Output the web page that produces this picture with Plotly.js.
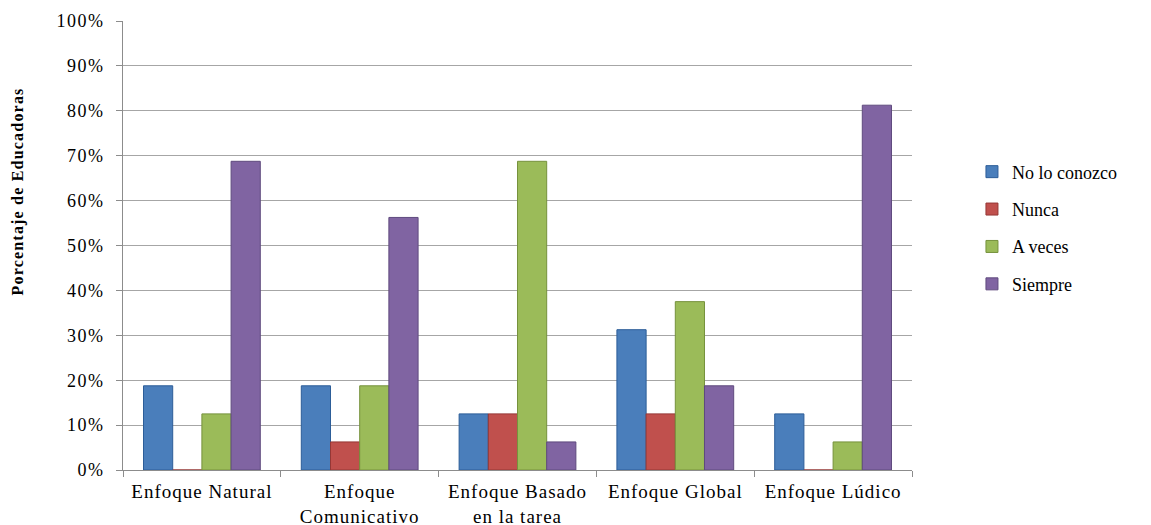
<!DOCTYPE html>
<html><head><meta charset="utf-8">
<script src="https://cdn.plot.ly/plotly-3.0.1.min.js"></script>
<style>body{margin:0;background:#fff}#c{width:1151px;height:525px}
#c .xtick text{letter-spacing:1px}
#c .ytick text{letter-spacing:1.5px}
#c .annotation text{letter-spacing:1.2px}</style>
</head><body><div id="c"></div>
<script>
const categories = ["Enfoque Natural", "Enfoque<br>Comunicativo", "Enfoque Basado<br>en la tarea", "Enfoque Global", "Enfoque Lúdico"];
const seriesNames = ["No lo conozco", "Nunca", "A veces", "Siempre"];
const noLoConozco = [0.1875, 0.1875, 0.125, 0.3125, 0.125];
const nunca = [0, 0.0625, 0.125, 0.125, 0];
const aVeces = [0.125, 0.1875, 0.6875, 0.375, 0.0625];
const siempre = [0.6875, 0.5625, 0.0625, 0.1875, 0.8125];
const yTicks = [0,0.1,0.2,0.3,0.4,0.5,0.6,0.7,0.8,0.9,1];
const yTickText = ["0%","10%","20%","30%","40%","50%","60%","70%","80%","90%","100%"];
const yTitle = "Porcentaje de Educadoras";

const colors = ["#4a7ebb", "#c0504d", "#9bbb59", "#8064a2"];
const borders = ["#2c5d98", "#953735", "#76923c", "#5f4a7e"];
const values = [noLoConozco, nunca, aVeces, siempre];
const font = "Liberation Serif, Times New Roman, serif";

const traces = values.map((v, i) => ({
  type: "bar", x: categories, y: v, name: seriesNames[i], legendgroup: "g" + i,
  marker: {color: colors[i], line: {color: borders[i], width: 1}},
  hoverinfo: "x+y+name"
}));

const layout = {
  width: 1151, height: 525,
  margin: {l: 123, r: 239, t: 21, b: 55},
  paper_bgcolor: "#fff", plot_bgcolor: "#fff",
  font: {family: font, size: 18, color: "#000"},
  barmode: "group", bargap: 0.26, bargroupgap: 0,
  xaxis: {
    showline: true, linecolor: "#8c8c8c", linewidth: 1,
    ticks: "outside", tickson: "boundaries", ticklen: 6, tickcolor: "#8c8c8c",
    tickfont: {family: font, size: 19}, showgrid: false, automargin: false,
    ticklabelstandoff: 4
  },
  yaxis: {
    range: [0, 1], tickvals: yTicks, ticktext: yTickText,
    showline: true, linecolor: "#8c8c8c", linewidth: 1,
    ticks: "outside", ticklen: 6, tickcolor: "#8c8c8c",
    gridcolor: "#a6a6a6", gridwidth: 1, zeroline: false,
    tickfont: {family: font, size: 18}, automargin: false,
    ticklabelstandoff: 8
  },
  annotations: [{
    text: "<b>" + yTitle + "</b>", xref: "paper", yref: "paper",
    x: -0.133, y: 0.619, xanchor: "center", yanchor: "middle",
    textangle: -90, showarrow: false, font: {family: font, size: 16, color: "#000"}
  }],
  legend: {
    x: 1.076, y: 0.705, xanchor: "left", yanchor: "top",
    font: {family: font, size: 18}, tracegroupgap: 11, traceorder: "grouped",
    itemwidth: 30
  },
  showlegend: true
};
Plotly.newPlot("c", traces, layout, {displayModeBar: false, staticPlot: true});
</script></body></html>
